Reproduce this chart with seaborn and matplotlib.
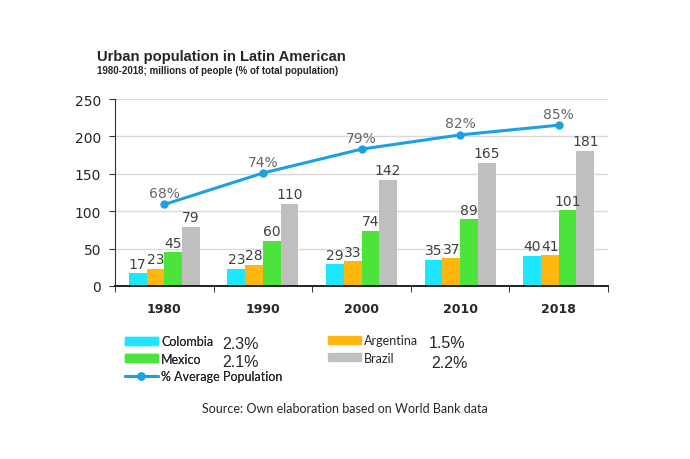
import matplotlib
matplotlib.use("Agg")
import matplotlib.pyplot as plt
import matplotlib.patches as mpatches
import matplotlib.lines as mlines
import pandas as pd
import seaborn as sns

# Data
years = ["1980", "1990", "2000", "2010", "2018"]
colombia = [17, 23, 29, 35, 40]
argentina = [23, 28, 33, 37, 41]
mexico = [45, 60, 74, 89, 101]
brazil = [79, 110, 142, 165, 181]
# line drawn on the left scale, labelled with the urban share
avg_line = [109, 151, 183, 202, 215]
avg_pct = ["68%", "74%", "79%", "82%", "85%"]
growth = {"Colombia": "2.3%", "Argentina": "1.5%", "Mexico": "2.1%", "Brazil": "2.2%"}

countries = ["Colombia", "Argentina", "Mexico", "Brazil"]
colors = ["#1FE5FF", "#FFB70F", "#4CE33A", "#BFBFBF"]
line_color = "#1BA1E2"

df = pd.DataFrame({
    "year": years * 4,
    "country": [c for c in countries for _ in years],
    "value": colombia + argentina + mexico + brazil,
})

sns.set_style("white")
fig = plt.figure(figsize=(6.9, 4.6), dpi=100)
ax = fig.add_axes([115 / 690, 1 - 287 / 460, 493 / 690, 187 / 460])

sns.barplot(data=df, x="year", y="value", hue="country", order=years,
            hue_order=countries, palette=colors, width=0.72, saturation=1,
            ax=ax, legend=False, edgecolor="none")

# value labels
for cont in ax.containers:
    ax.bar_label(cont, padding=2, fontsize=10, color="#404040",
                 family="DejaVu Sans")

# average population line
ax.plot(range(len(years)), avg_line, color=line_color, lw=2.2, marker="o",
        ms=5, zorder=5)
for i, (v, t) in enumerate(zip(avg_line, avg_pct)):
    ax.text(i, v + 6, t, ha="center", va="bottom", fontsize=10, color="#666666")

ax.set_ylim(0, 250)
ax.set_xlim(-0.5, 4.5)
ax.set_yticks([0, 50, 100, 150, 200, 250])
ax.yaxis.grid(True, color="#D9D9D9", lw=1)
ax.set_axisbelow(True)
ax.set_xlabel("")
ax.set_ylabel("")
for s in ["top", "right"]:
    ax.spines[s].set_visible(False)
ax.spines["left"].set_color("#333333")
ax.spines["bottom"].set_color("#111111")
ax.spines["bottom"].set_linewidth(1.3)
ax.tick_params(axis="y", left=True, length=4, labelsize=10, color="#333333",
               pad=6)
ax.tick_params(axis="x", bottom=False, labelsize=9, pad=8)
for lbl in ax.get_xticklabels():
    lbl.set_fontweight("bold")
# separator ticks between the year groups
ax.set_xticks([-0.5, 0.5, 1.5, 2.5, 3.5, 4.5], minor=True)
ax.tick_params(axis="x", which="minor", bottom=True, length=4, color="#111111")

# titles
fig.text(97 / 690, 1 - 57 / 460, "Urban population in Latin American",
         fontsize=10.6, fontweight="bold", family="Liberation Sans", va="center")
fig.text(97 / 690, 1 - 71 / 460,
         "1980-2018; millions of people (% of total population)",
         fontsize=7, fontweight="bold", family="Liberation Sans", va="center")

# legend, split in two blocks
leg_kw = dict(loc="upper left", frameon=False,
              prop={"family": "Lato", "size": 9}, handlelength=2.6,
              handleheight=0.6, handletextpad=0.3, labelspacing=0.45,
              borderaxespad=0, borderpad=0)
left_handles = [
    mpatches.Patch(color=colors[0], label="Colombia"),
    mpatches.Patch(color=colors[2], label="Mexico"),
    mlines.Line2D([], [], color=line_color, lw=2.2, marker="o", ms=5,
                  label="% Average Population"),
]
right_handles = [
    mpatches.Patch(color=colors[1], label="Argentina"),
    mpatches.Patch(color=colors[3], label="Brazil"),
]
leg1 = fig.legend(handles=left_handles,
                  bbox_to_anchor=(125 / 690, 1 - 336 / 460), **leg_kw)
fig.legend(handles=right_handles,
           bbox_to_anchor=(328 / 690, 1 - 335 / 460), **leg_kw)
fig.add_artist(leg1)

pos = {"Colombia": (222, 345), "Argentina": (429, 344),
       "Mexico": (222, 363), "Brazil": (431, 364)}
for k, (x, y) in pos.items():
    fig.text(x / 690, 1 - y / 460, growth[k], fontsize=11.5,
             family="Liberation Sans", va="center")

fig.text(345 / 690, 1 - 409 / 460,
         "Source: Own elaboration based on World Bank data",
         fontsize=9, family="Lato", ha="center", va="center")

fig.savefig("out.png", dpi=100)
